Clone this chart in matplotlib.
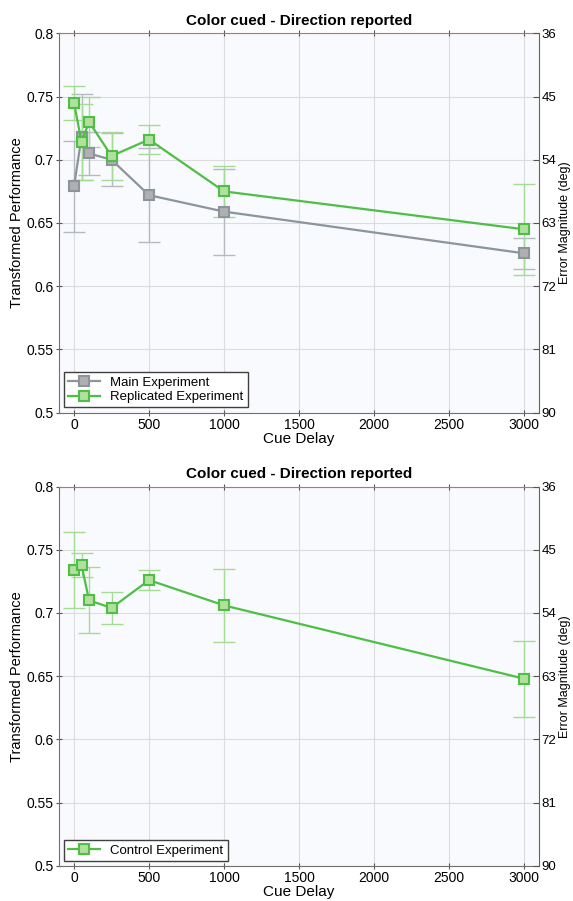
import numpy as np
import matplotlib
matplotlib.use('Agg')
import matplotlib.pyplot as plt

plt.rcParams['font.family'] = ['Liberation Sans', 'DejaVu Sans']

# cue delays (ms)
delays = [0, 50, 100, 250, 500, 1000, 3000]

# top panel
main_perf = [0.679, 0.718, 0.705, 0.700, 0.672, 0.659, 0.626]
main_err = [0.036, 0.034, 0.017, 0.021, 0.037, 0.034, 0.012]
repl_perf = [0.745, 0.714, 0.730, 0.703, 0.716, 0.675, 0.645]
repl_err = [0.0135, 0.030, 0.020, 0.019, 0.0115, 0.020, 0.036]

# bottom panel
ctrl_perf = [0.734, 0.738, 0.710, 0.704, 0.726, 0.706, 0.648]
ctrl_err = [0.030, 0.0095, 0.026, 0.0125, 0.0077, 0.029, 0.030]

title = 'Color cued - Direction reported'
y_ticks = [0.5, 0.55, 0.6, 0.65, 0.7, 0.75, 0.8]
y_tick_labels = ['0.5', '0.55', '0.6', '0.65', '0.7', '0.75', '0.8']
deg_ticks = [36, 45, 54, 63, 72, 81, 90]

GREEN = '#4dbf45'
GREEN_FACE = '#b3df9f'
GREEN_ERR = '#a5dc95'
GRAY = '#8c949c'
GRAY_FACE = '#b0b0b0'
GRAY_ERR = '#b4bac0'


def draw_series(ax, perf, err, line_c, face_c, err_c, label):
    ax.errorbar(delays, perf, yerr=err, fmt='none', ecolor=err_c,
                elinewidth=1.0, capsize=8, capthick=1.0, zorder=2)
    ax.plot(delays, perf, '-s', color=line_c, lw=1.6, ms=7.5,
            mfc=face_c, mec=line_c, mew=1.5, zorder=3, label=label)


def setup_axes(ax):
    ax.set_facecolor('#f9fafd')
    ax.set_xlim(-100, 3100)
    ax.set_ylim(0.5, 0.8)
    ax.set_xticks([0, 500, 1000, 1500, 2000, 2500, 3000])
    ax.set_yticks(y_ticks)
    ax.set_yticklabels(y_tick_labels)
    ax.grid(True, color='#dcdcdc', lw=0.8)
    ax.set_axisbelow(True)
    ax.tick_params(labelsize=10, length=4, pad=2, colors='#555555',
                   labelcolor='black', direction='inout')
    ax.tick_params(axis='x', top=True)
    for s in ['left', 'bottom']:
        ax.spines[s].set_color('#707070')
    ax.spines['top'].set_color('#b07868')
    ax.spines['right'].set_color('#6a6060')
    ax.set_xlabel('Cue Delay', fontsize=11, labelpad=0)
    ax.set_ylabel('Transformed Performance', fontsize=10.5, labelpad=2)
    ax.set_title(title, fontsize=11, fontweight='bold', pad=6)

    ax2 = ax.twinx()
    ax2.set_ylim(90, 36)
    ax2.set_yticks(deg_ticks)
    ax2.tick_params(labelsize=9.5, length=4, pad=1.5, direction='in',
                    colors='#555555', labelcolor='black')
    ax2.set_ylabel('Error Magnitude (deg)', fontsize=9, labelpad=2)
    for s in ax2.spines.values():
        s.set_visible(False)
    return ax2


fig = plt.figure(figsize=(5.73, 9.01), dpi=100)
ax_top = fig.add_axes([0.103, 0.542, 0.838, 0.421])
ax_bot = fig.add_axes([0.103, 0.039, 0.838, 0.421])

setup_axes(ax_top)
draw_series(ax_top, main_perf, main_err, GRAY, GRAY_FACE, GRAY_ERR, 'Main Experiment')
draw_series(ax_top, repl_perf, repl_err, GREEN, GREEN_FACE, GREEN_ERR, 'Replicated Experiment')
leg = ax_top.legend(loc='lower left', fontsize=9.5, fancybox=False, framealpha=1,
                    edgecolor='#404040', borderpad=0.3, handlelength=2.4,
                    labelspacing=0.2, borderaxespad=0.4)
leg.get_frame().set_linewidth(1.0)

setup_axes(ax_bot)
draw_series(ax_bot, ctrl_perf, ctrl_err, GREEN, GREEN_FACE, GREEN_ERR, 'Control Experiment')
leg = ax_bot.legend(loc='lower left', fontsize=9.5, fancybox=False, framealpha=1,
                    edgecolor='#404040', borderpad=0.3, handlelength=2.4,
                    borderaxespad=0.4)
leg.get_frame().set_linewidth(1.0)

fig.savefig('out.png', dpi=100)
